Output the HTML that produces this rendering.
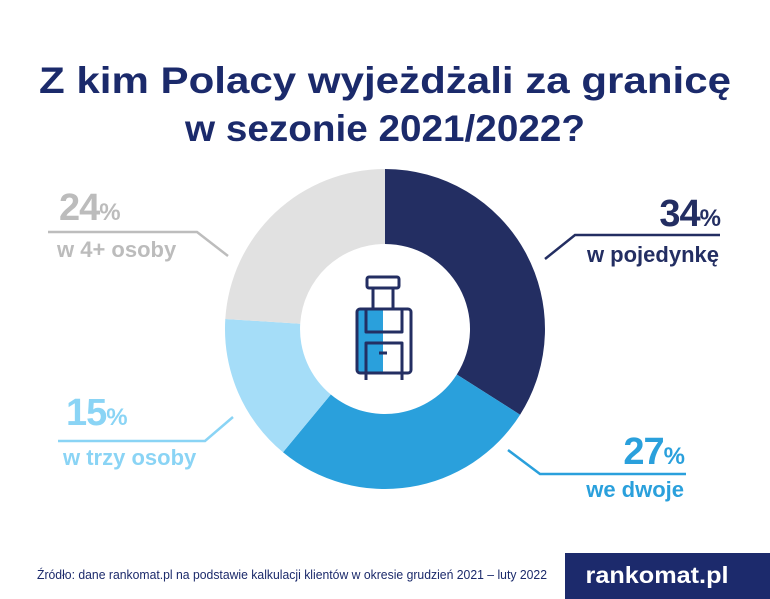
<!DOCTYPE html>
<html><head><meta charset="utf-8"><style>
html,body{margin:0;padding:0;background:#fff}
svg{display:block}
text{font-family:"Liberation Sans",sans-serif;font-weight:bold}
</style></head><body>
<svg width="770" height="599" viewBox="0 0 770 599">
<rect width="770" height="599" fill="#fff"/>
<text x="385" y="93" text-anchor="middle" font-size="37" fill="#1b2a6b" textLength="692" lengthAdjust="spacingAndGlyphs">Z kim Polacy wyjeżdżali za granicę</text>
<text x="385" y="141" text-anchor="middle" font-size="37" fill="#1b2a6b" textLength="400" lengthAdjust="spacingAndGlyphs">w sezonie 2021/2022?</text>
<path d="M385 169 A160 160 0 0 1 520.1 414.7 L456.8 374.5 A85 85 0 0 0 385 244 Z" fill="#232e62"/>
<path d="M520.1 414.7 A160 160 0 0 1 283.0 452.3 L330.8 394.5 A85 85 0 0 0 456.8 374.5 Z" fill="#2aa0dc"/>
<path d="M283.0 452.3 A160 160 0 0 1 225.3 319.0 L300.2 323.7 A85 85 0 0 0 330.8 394.5 Z" fill="#a5ddf8"/>
<path d="M225.3 319.0 A160 160 0 0 1 385 169 L385 244 A85 85 0 0 0 300.2 323.7 Z" fill="#e1e1e1"/>
<rect x="357" y="310" width="26" height="62" fill="#2aa0dc"/>
<g fill="none" stroke="#232e62" stroke-width="3" stroke-linejoin="round">
<rect x="367" y="277" width="32" height="11" rx="2"/>
<line x1="373" y1="288" x2="373" y2="309"/><line x1="393" y1="288" x2="393" y2="309"/>
<rect x="357" y="309" width="54" height="64" rx="3"/>
<path d="M366 310 V332 H402 V310"/>
<path d="M366 372 V343 H402 V372"/>
<line x1="379" y1="353" x2="387" y2="353"/>
<line x1="366" y1="373" x2="366" y2="380"/><line x1="402" y1="373" x2="402" y2="380"/>
</g>
<polyline points="545,259 575,235 720,235" fill="none" stroke="#232e62" stroke-width="2.5"/>
<text x="720" y="226" text-anchor="end" fill="#232e62" letter-spacing="-1"><tspan font-size="38">34</tspan><tspan font-size="24">%</tspan></text>
<text x="719" y="262" text-anchor="end" font-size="22" fill="#232e62">w pojedynkę</text>
<polyline points="508,450 540,474 686,474" fill="none" stroke="#2aa0dc" stroke-width="2.5"/>
<text x="684" y="464" text-anchor="end" fill="#2aa0dc" letter-spacing="-1"><tspan font-size="38">27</tspan><tspan font-size="24">%</tspan></text>
<text x="684" y="497" text-anchor="end" font-size="22" fill="#2aa0dc">we dwoje</text>
<polyline points="48,232 197,232 228,256" fill="none" stroke="#bdbdbd" stroke-width="2.5"/>
<text x="59" y="220" fill="#bcbcbc" letter-spacing="-1"><tspan font-size="38">24</tspan><tspan font-size="24">%</tspan></text>
<text x="57" y="257" font-size="22" fill="#bcbcbc">w 4+ osoby</text>
<polyline points="58,441 205,441 233,417" fill="none" stroke="#8ad4f5" stroke-width="2.5"/>
<text x="66" y="425" fill="#8ad4f5" letter-spacing="-1"><tspan font-size="38">15</tspan><tspan font-size="24">%</tspan></text>
<text x="63" y="465" font-size="22" fill="#8ad4f5">w trzy osoby</text>
<text x="37" y="579" font-size="13" fill="#1b2a6b" style="font-weight:normal" textLength="510" lengthAdjust="spacingAndGlyphs">Źródło: dane rankomat.pl na podstawie kalkulacji klientów w okresie grudzień 2021 – luty 2022</text>
<rect x="565" y="553" width="205" height="46" fill="#1c2a6c"/>
<text x="657" y="583" text-anchor="middle" font-size="23" fill="#fff" textLength="143" lengthAdjust="spacingAndGlyphs">rankomat.pl</text>
</svg>
</body></html>
